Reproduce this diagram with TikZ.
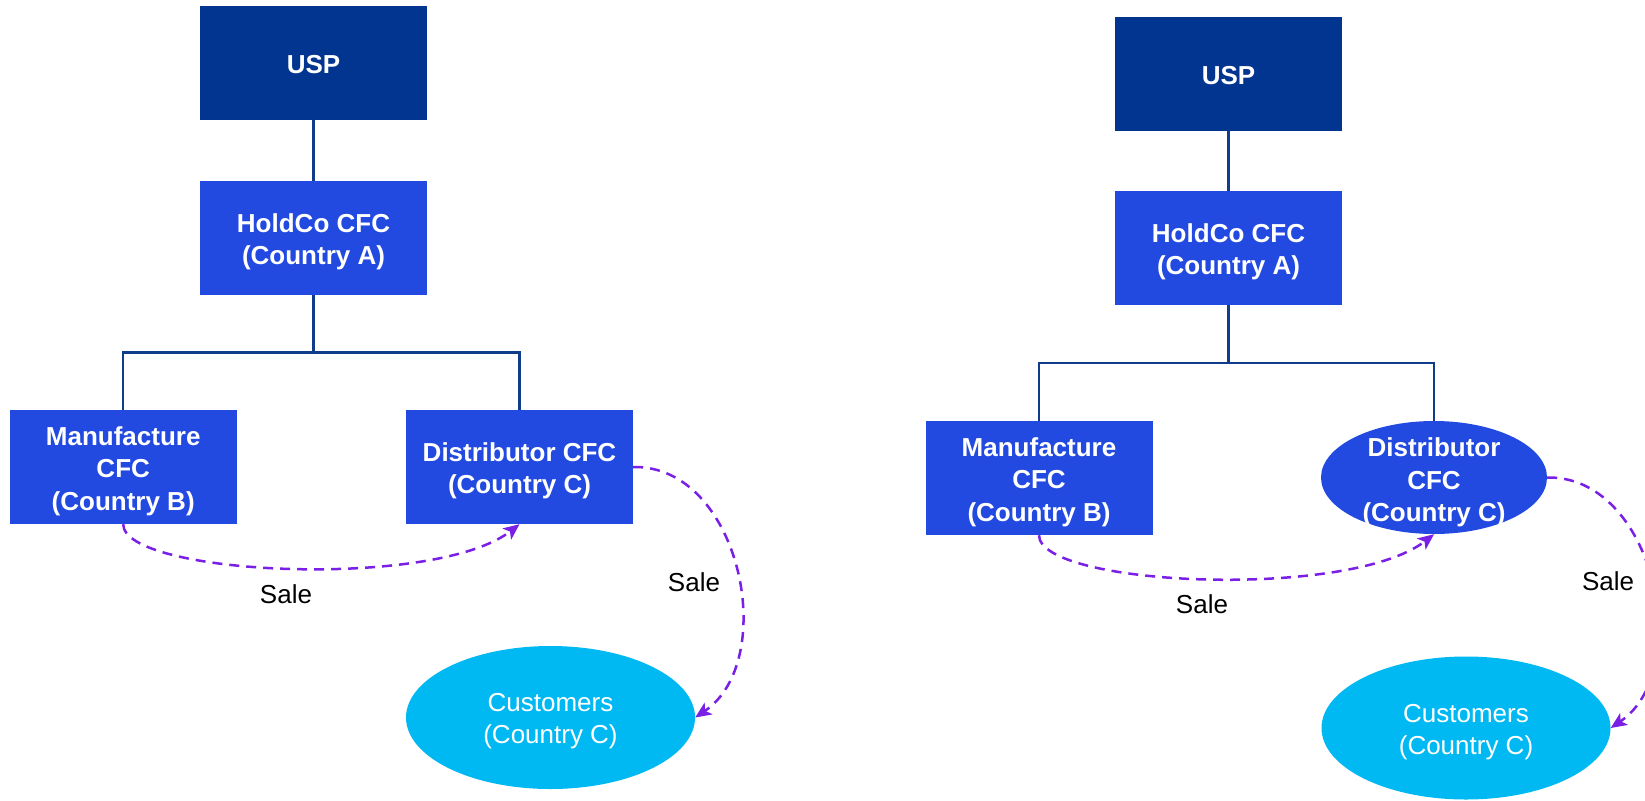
\documentclass[tikz,border=0pt]{standalone}
\usepackage{fontspec}
\setmainfont{Liberation Sans}
\usetikzlibrary{shapes.geometric,arrows.meta}
\definecolor{uspnavy}{HTML}{02358F}
\definecolor{cfcblue}{HTML}{224AE1}
\definecolor{custcyan}{HTML}{00B9F2}
\definecolor{treeblue}{HTML}{103C8C}
\definecolor{salepurple}{HTML}{7A1FE6}
\begin{document}
\begin{tikzpicture}[x=1pt,y=-1pt,
  entity/.style={rectangle, fill=cfcblue, minimum width=227pt, minimum height=114pt, inner sep=0pt},
  uspbox/.style={entity, fill=uspnavy},
  distell/.style={ellipse, fill=cfcblue, minimum width=226pt, minimum height=113pt, inner sep=0pt},
  custell/.style={ellipse, fill=custcyan, minimum width=289pt, minimum height=143pt, inner sep=0pt},
  boldtext/.style={inner sep=0pt, text=white, align=center,
    font=\bfseries\fontsize{26}{32.5}\selectfont},
  plaintext/.style={inner sep=0pt, text=white, align=center,
    font=\fontsize{26}{32}\selectfont},
  salelbl/.style={inner sep=0pt, text=black, font=\fontsize{26}{32}\selectfont},
  tree/.style={draw=treeblue, line width=2.2pt},
  salearrow/.style={draw=salepurple, line width=2.5pt, dash pattern=on 10pt off 7pt,
    -{Stealth[length=16pt,width=14pt,inset=4pt]}}
]
\clip (0,0) rectangle (1645,800);

% ---------- left structure ----------
\node[uspbox] (uspL) at (313.5,63) {};
\node[entity] (holdL) at (313.5,238) {};
\node[entity] (manuL) at (123.2,467) {};
\node[entity] (distL) at (519.5,467) {};
\node[custell] (custL) at (550.5,717.5) {};
\coordinate (barL) at (313.5,352.5);

\node[boldtext] (uspLt) at ([yshift=-2pt]uspL.center) {USP};
\node[boldtext] (holdLt) at ([yshift=-4pt]holdL.center) {HoldCo CFC\\(Country A)};
\node[boldtext] (manuLt) at ([yshift=-4pt]manuL.center) {Manufacture\\CFC\\(Country B)};
\node[boldtext] (distLt) at ([yshift=-4pt]distL.center) {Distributor CFC\\(Country C)};
\node[plaintext] (custLt) at ([yshift=-4pt]custL.center) {Customers\\(Country C)};

\draw[tree] (uspL.south) -- (holdL.north);
\draw[tree] (holdL.south) -- (barL) -| (manuL.north);
\draw[tree] (barL) -| (distL.north);

\draw[salearrow] (manuL.south) .. controls +(0,51) and +(-85,66) .. (distL.south);
\draw[salearrow] (distL.east) .. controls +(107,-2) and +(85,-57.5) .. (custL.east);
\node[salelbl] (saleL1) at (286,594) {Sale};
\node[salelbl] (saleL2) at (694,582) {Sale};

% ---------- right structure ----------
\node[uspbox] (uspR) at (1228.5,74) {};
\node[entity] (holdR) at (1228.5,248) {};
\node[entity] (manuR) at (1039,478) {};
\node[distell] (distR) at (1434,477.5) {};
\node[custell] (custR) at (1466,728) {};
\coordinate (barR) at (1228.5,363);

\node[boldtext] (uspRt) at ([yshift=-2pt]uspR.center) {USP};
\node[boldtext] (holdRt) at ([yshift=-4pt]holdR.center) {HoldCo CFC\\(Country A)};
\node[boldtext] (manuRt) at ([yshift=-4pt]manuR.center) {Manufacture\\CFC\\(Country B)};
\node[boldtext] (distRt) at ([yshift=-5pt]distR.center) {Distributor\\CFC\\(Country C)};
\node[plaintext] (custRt) at ([yshift=-4pt]custR.center) {Customers\\(Country C)};

\draw[tree] (uspR.south) -- (holdR.north);
\draw[tree] (holdR.south) -- (barR) -| (manuR.north);
\draw[tree] (barR) -| (distR.north);

\draw[salearrow] (manuR.south) .. controls +(0,51) and +(-85,66) .. (distR.south);
\draw[salearrow] (distR.east) .. controls +(107,-2) and +(85,-57.5) .. (custR.east);
\node[salelbl] (saleR1) at (1202,604) {Sale};
\node[salelbl] (saleR2) at (1608,581) {Sale};
\end{tikzpicture}
\end{document}
